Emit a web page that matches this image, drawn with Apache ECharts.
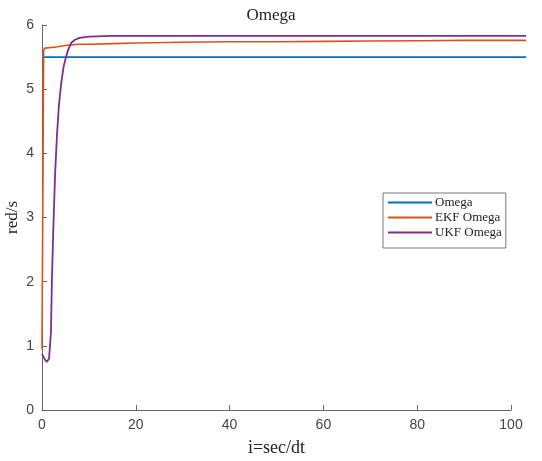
<!DOCTYPE html>
<html>
<head>
<meta charset="utf-8">
<script src="https://cdn.jsdelivr.net/npm/echarts@6/dist/echarts.min.js"></script>
<style>
  html, body { margin: 0; padding: 0; background: #fff; }
  #chart { width: 542px; height: 461px; }
</style>
</head>
<body>
<div id="chart"></div>
<script>
// series names
const seriesNames = ['Omega', 'EKF Omega', 'UKF Omega']

// true omega (constant)
const omegaX = [0, 103]
const omegaY = [5.5, 5.5]

// EKF estimate
const ekfX = [0, 0.35, 0.6, 2, 3.4, 5, 7.7, 10, 15, 20, 30, 40, 50, 60, 70, 80, 90, 103]
const ekfY = [0.95, 5.6, 5.64, 5.65, 5.66, 5.68, 5.7, 5.7, 5.71, 5.72, 5.73, 5.74, 5.74, 5.745, 5.75, 5.755, 5.76, 5.76]

// UKF estimate
const ukfX = [0, 0.5, 1.0, 1.5, 1.9, 2.1, 2.4, 2.8, 3.2, 3.6, 4.1, 4.6, 5, 5.5, 6.2, 7, 8, 10, 15, 103]
const ukfY = [0.87, 0.8, 0.75, 0.8, 1.2, 2.0, 2.8, 3.7, 4.3, 4.75, 5.1, 5.35, 5.47, 5.6, 5.72, 5.77, 5.8, 5.82, 5.83, 5.83]

const colors = ['#0072BD', '#D95319', '#7E2F8E']

const pairs = (xs, ys) => xs.map((x, i) => [x, ys[i]])

const chart = echarts.init(document.getElementById('chart'), null, { renderer: 'canvas' })

const axisColor = '#666'
const tickFont = { color: '#444', fontSize: 14, fontFamily: 'Liberation Sans' }

// the plotted data runs a little past the last tick (x = 100),
// so the lines live in a second grid whose x scale reaches 103
const mkSeries = (name, data, color, width) => ({
  name,
  type: 'line',
  xAxisIndex: 1,
  yAxisIndex: 1,
  data,
  showSymbol: false,
  clip: false,
  animation: false,
  lineStyle: { color, width },
  itemStyle: { color }
})

chart.setOption({
  backgroundColor: '#fff',
  animation: false,
  title: {
    text: 'Omega',
    left: 'center',
    top: 2,
    textStyle: { fontFamily: 'Liberation Serif', fontWeight: 'normal', fontSize: 17, color: '#222' }
  },
  grid: [
    { left: 42, right: 31, top: 25, bottom: 51, containLabel: false, outerBoundsMode: 'none' },
    { left: 42, right: 16, top: 25, bottom: 51, containLabel: false, outerBoundsMode: 'none' }
  ],
  legend: {
    orient: 'vertical',
    left: 383,
    top: 193,
    padding: [3, 4, 9, 5],
    itemGap: 2,
    itemWidth: 44,
    itemHeight: 2,
    icon: 'rect',
    borderColor: '#777',
    borderWidth: 1,
    backgroundColor: '#fff',
    textStyle: { fontFamily: 'Liberation Serif', fontSize: 13, color: '#222', padding: [0, 0, 0, -2] },
    data: seriesNames
  },
  xAxis: [
    {
      type: 'value',
      gridIndex: 0,
      min: 0,
      max: 100,
      interval: 20,
      name: 'i=sec/dt',
      nameLocation: 'middle',
      nameGap: 29,
      nameMoveOverlap: false,
      nameTextStyle: { fontFamily: 'Liberation Serif', fontSize: 18, color: '#222' },
      axisLine: { lineStyle: { color: axisColor, width: 1 } },
      axisTick: { inside: true, length: 5, lineStyle: { color: axisColor } },
      axisLabel: Object.assign({ margin: 8 }, tickFont),
      splitLine: { show: false }
    },
    {
      type: 'value',
      gridIndex: 1,
      min: 0,
      max: 103,
      show: false
    }
  ],
  yAxis: [
    {
      type: 'value',
      gridIndex: 0,
      min: 0,
      max: 6,
      interval: 1,
      name: 'red/s',
      nameLocation: 'middle',
      nameGap: 21,
      nameMoveOverlap: false,
      nameTextStyle: { fontFamily: 'Liberation Serif', fontSize: 17, color: '#222' },
      axisLine: { show: true, lineStyle: { color: axisColor, width: 1 } },
      axisTick: { show: true, inside: true, length: 5, lineStyle: { color: axisColor } },
      axisLabel: Object.assign({ margin: 8 }, tickFont),
      splitLine: { show: false }
    },
    {
      type: 'value',
      gridIndex: 1,
      min: 0,
      max: 6,
      show: false
    }
  ],
  series: [
    mkSeries(seriesNames[0], pairs(omegaX, omegaY), colors[0], 1.6),
    mkSeries(seriesNames[1], pairs(ekfX, ekfY), colors[1], 1.6),
    mkSeries(seriesNames[2], pairs(ukfX, ukfY), colors[2], 1.8)
  ]
})
</script>
</body>
</html>
